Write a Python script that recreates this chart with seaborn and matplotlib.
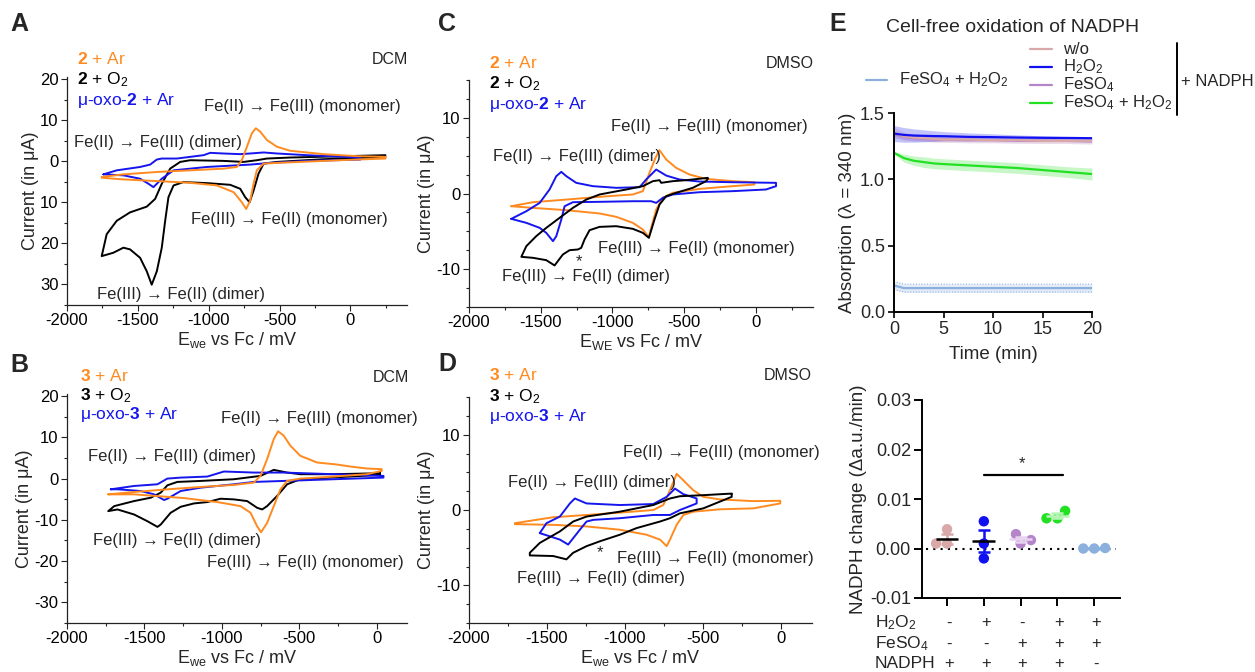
import numpy as np
import pandas as pd
import matplotlib
matplotlib.use("Agg")
import matplotlib.pyplot as plt
import seaborn as sns
from matplotlib.lines import Line2D
from matplotlib.ticker import MultipleLocator

# ---------------- DATA ----------------
# Panel A (compound 2, DCM)
A_or_E = [-1755,-1602,-1366,-1131,-895,-801,-766,-730,-695,-667,-636,-589,-518,-424,-188,47,248,248,47,-188,-518,-612,-660,-683,-707,-735,-766,-824,-942,-1131,-1366,-1602,-1755]
A_or_I = [-3.85,-3.20,-2.62,-2.22,-1.81,-1.40,0.24,3.52,6.79,8.02,7.20,5.16,3.52,2.54,1.72,1.23,1.06,0.65,0.41,0.08,-0.41,-0.58,-2.22,-5.49,-9.59,-11.63,-9.99,-7.54,-5.90,-5.25,-4.84,-4.43,-4.02]
A_bk_E = [248,-188,-518,-612,-648,-683,-711,-742,-777,-848,-1013,-1178,-1248,-1284,-1307,-1331,-1366,-1402,-1437,-1484,-1555,-1602,-1673,-1755,-1720,-1649,-1555,-1437,-1378,-1331,-1272,-1201,-1131,-895,-754,-660,-589,-424,248]
A_bk_I = [1.06,0.49,-0.17,-0.58,-3.03,-7.13,-9.99,-8.77,-6.72,-5.74,-5.33,-5.08,-5.90,-8.77,-14.50,-21.05,-26.79,-30.06,-26.79,-23.51,-21.46,-21.05,-22.28,-23.10,-17.78,-14.50,-12.45,-11.06,-9.18,-5.49,-1.81,-0.17,0.24,0.08,-0.17,0.24,0.65,0.90,1.47]
A_bl_E = [-1743,-1649,-1484,-1413,-1366,-1331,-1225,-1131,-1036,-989,-895,-777,-707,-612,-518,-306,71,71,-306,-565,-707,-1013,-1248,-1331,-1366,-1390,-1425,-1484,-1602,-1743]
A_bl_I = [-3.20,-2.22,-1.40,-0.82,0.41,0.65,0.65,1.06,1.47,2.04,1.88,1.72,1.88,2.13,1.88,1.47,0.90,0.41,0.08,-0.41,-0.82,-1.40,-2.22,-4.26,-5.49,-6.31,-5.49,-4.26,-3.44,-3.20]

# Panel B (compound 3, DCM)
B_or_E = [-1734,-1567,-1352,-1137,-923,-794,-751,-708,-665,-637,-601,-558,-494,-386,-258,-172,-64,32,32,-64,-279,-494,-579,-622,-665,-708,-747,-773,-815,-880,-1030,-1245,-1567,-1734]
B_or_I = [-3.82,-3.25,-2.60,-2.03,-1.54,-0.98,0.65,4.72,9.59,11.46,10.41,7.97,5.53,3.90,3.41,2.93,2.44,2.28,1.87,1.06,0.49,0.0,-0.57,-2.60,-6.67,-10.73,-13.01,-11.54,-8.29,-6.67,-5.69,-4.72,-3.82,-3.82]
B_bk_E = [21,21,-494,-579,-644,-708,-740,-773,-837,-923,-1009,-1094,-1180,-1266,-1331,-1395,-1416,-1481,-1567,-1674,-1734,-1695,-1567,-1459,-1395,-1352,-1288,-1137,-923,-751,-665,-579,-494,-279,21]
B_bk_I = [1.30,0.89,-0.16,-1.38,-4.23,-6.67,-7.48,-7.07,-5.45,-5.04,-4.88,-5.69,-6.02,-6.83,-8.29,-11.14,-11.71,-10.33,-8.70,-7.48,-7.89,-6.67,-5.45,-4.63,-3.41,-1.63,-0.81,-0.57,-0.16,0.65,2.11,1.46,1.06,1.06,1.30]
B_bl_E = [-1717,-1567,-1416,-1352,-1266,-1094,-987,-923,-794,-601,-279,43,43,-279,-601,-794,-923,-1137,-1266,-1352,-1373,-1438,-1524,-1674,-1717]
B_bl_I = [-2.60,-1.79,-1.38,0.0,0.24,0.49,1.71,1.63,1.46,1.46,1.06,0.65,0.24,-0.16,-0.57,-0.81,-1.38,-2.20,-3.01,-4.88,-5.20,-3.82,-3.01,-2.60,-2.60]

# Panel C (compound 2, DMSO)
C_or_E = [-1705,-1554,-1321,-1089,-857,-787,-741,-699,-671,-624,-555,-462,-346,-160,-9,-9,-160,-392,-578,-648,-694,-729,-745,-787,-857,-973,-1089,-1321,-1554,-1705]
C_or_I = [-1.68,-1.15,-0.80,-0.44,-0.13,0.31,2.73,4.71,5.72,4.49,3.39,2.51,1.93,1.63,1.49,1.19,0.97,0.61,0.09,-0.57,-2.12,-4.54,-5.77,-4.76,-3.88,-3.08,-2.64,-2.20,-1.90,-1.68]
C_bl_E = [-1705,-1600,-1507,-1438,-1391,-1356,-1321,-1252,-1136,-973,-810,-764,-717,-694,-624,-532,-392,-160,142,142,72,-160,-392,-578,-648,-694,-729,-857,-1089,-1275,-1333,-1356,-1391,-1414,-1461,-1507,-1600,-1705]
C_bl_I = [-3.35,-2.34,-1.24,0.53,2.29,2.86,2.29,1.41,0.97,0.75,0.83,1.85,2.73,3.17,2.37,1.85,1.58,1.49,1.41,0.97,0.53,0.31,0.17,-0.13,-0.57,-1.24,-1.02,-1.02,-1.10,-1.15,-1.68,-3.44,-5.64,-6.30,-5.20,-4.54,-3.88,-3.35]
C_bk_E = [-334,-346,-439,-555,-624,-671,-706,-745,-787,-857,-973,-1089,-1159,-1194,-1217,-1240,-1298,-1345,-1403,-1461,-1554,-1635,-1600,-1531,-1461,-1368,-1275,-1182,-1089,-903,-787,-717,-671,-659,-578,-485,-334]
C_bk_I = [1.93,1.63,0.75,0.09,-0.35,-1.46,-3.44,-5.86,-5.20,-4.67,-4.32,-4.41,-4.85,-6.08,-7.18,-7.40,-7.49,-8.06,-9.51,-8.81,-8.50,-8.37,-6.96,-5.64,-4.54,-3.22,-1.90,-0.80,-0.13,0.53,0.97,1.63,1.76,1.41,1.63,1.76,2.07]

# Panel D (compound 3, DMSO)
D_or_E = [-1706,-1460,-1246,-1032,-818,-754,-711,-668,-625,-561,-497,-390,-176,-4,-4,-176,-390,-561,-625,-668,-711,-732,-775,-861,-1032,-1246,-1460,-1706]
D_or_I = [-1.75,-0.96,-0.66,-0.35,0.0,0.66,2.62,4.80,3.93,2.62,1.75,1.40,1.18,1.22,0.87,0.22,0.09,-0.22,-0.66,-1.97,-3.93,-4.80,-3.93,-3.28,-2.62,-2.18,-1.97,-1.88]
D_bl_E = [-1546,-1503,-1417,-1353,-1321,-1246,-1032,-818,-732,-679,-625,-540,-540,-647,-711,-818,-1032,-1203,-1246,-1289,-1364,-1417,-1482,-1536,-1546]
D_bl_I = [-3.06,-1.75,-0.87,0.87,1.53,0.87,0.66,0.79,1.75,2.84,2.10,1.53,0.87,0.0,-0.66,-0.66,-1.09,-1.31,-1.53,-2.62,-4.59,-3.93,-3.49,-3.14,-3.06]
D_bk_E = [-315,-315,-497,-647,-711,-775,-925,-1032,-1160,-1246,-1332,-1375,-1460,-1610,-1610,-1546,-1417,-1332,-1246,-1032,-818,-711,-647,-497,-315]
D_bk_I = [2.10,1.75,0.22,-0.44,-1.09,-1.53,-2.40,-3.28,-4.15,-4.80,-5.68,-6.55,-6.11,-6.03,-5.68,-4.37,-2.84,-1.53,-0.87,-0.22,0.66,1.53,1.83,1.97,2.18]

# Panel E top: absorption over time (mean and band half-width)
time_min = [0, 0.5, 1, 2, 3, 4, 5, 7.5, 10, 12.5, 15, 17.5, 20]
abs_wo = [1.35, 1.34, 1.325, 1.315, 1.31, 1.305, 1.30, 1.30, 1.295, 1.295, 1.29, 1.29, 1.29]
abs_wo_sd = [0.04, 0.035, 0.03, 0.025, 0.02, 0.02, 0.02, 0.015, 0.015, 0.015, 0.015, 0.015, 0.015]
abs_h2o2 = [1.345, 1.34, 1.335, 1.33, 1.328, 1.326, 1.325, 1.32, 1.318, 1.315, 1.313, 1.312, 1.31]
abs_h2o2_sd = [0.06, 0.058, 0.055, 0.05, 0.045, 0.04, 0.035, 0.03, 0.025, 0.02, 0.015, 0.01, 0.008]
abs_fe = [1.34, 1.33, 1.32, 1.31, 1.305, 1.30, 1.30, 1.295, 1.295, 1.29, 1.29, 1.29, 1.285]
abs_fe_sd = [0.02]*13
abs_feh = [1.20, 1.18, 1.16, 1.14, 1.13, 1.12, 1.115, 1.105, 1.095, 1.085, 1.07, 1.055, 1.04]
abs_feh_sd = [0.01, 0.02, 0.03, 0.035, 0.04, 0.04, 0.04, 0.04, 0.04, 0.04, 0.04, 0.04, 0.045]
abs_nonadph = [0.20, 0.19, 0.18, 0.18, 0.18, 0.18, 0.18, 0.18, 0.18, 0.18, 0.18, 0.18, 0.18]
abs_nonadph_sd = [0.03]*13

# Panel E bottom: NADPH change per condition
cond_names = ["w/o", "H2O2", "FeSO4", "FeSO4+H2O2", "FeSO4+H2O2 no NADPH"]
vals_wo = [0.0039, 0.0010, 0.0010]
vals_h2o2 = [0.0055, 0.0010, -0.0020]
vals_fe = [0.0029, 0.0010, 0.0017]
vals_feh = [0.0076, 0.0061, 0.0061]
vals_nonadph = [0.0, 0.0001, 0.0]
row_h2o2 = ["-", "+", "-", "+", "+"]
row_fe = ["-", "-", "+", "+", "+"]
row_nadph = ["+", "+", "+", "+", "-"]

# ---------------- STYLE ----------------
sns.set_theme(style="ticks")
plt.rcParams['font.family'] = ['Liberation Sans', 'DejaVu Sans']
plt.rcParams['mathtext.fontset'] = 'custom'
plt.rcParams['mathtext.rm'] = 'Liberation Sans'
plt.rcParams['mathtext.bf'] = 'Liberation Sans:bold'
plt.rcParams['mathtext.it'] = 'Liberation Sans:italic'
plt.rcParams['mathtext.sf'] = 'Liberation Sans'
plt.rcParams['axes.unicode_minus'] = False

ORANGE = "#FF8A1F"
BLUE = "#1515EE"
BLACK = "#000000"
C_WO = "#D9A9A9"
C_H2O2 = "#1010F0"
C_FE = "#B585CA"
C_FEH = "#22E022"
C_NON = "#8CB0DE"

W, H = 1255, 672
fig = plt.figure(figsize=(W/100, H/100), dpi=100)

def axpx(l, t, r, b):
    return fig.add_axes([l/W, 1-b/H, (r-l)/W, (b-t)/H])

def ftext(x, y, s, **kw):
    fig.text(x/W, 1-y/H, s, **kw)

def cv_panel(box, curves, xlim, ylim, yticks, ylabels, yminor, xlabel):
    ax = axpx(*box)
    for E, I, c in curves:
        sns.lineplot(x=E, y=I, sort=False, estimator=None, color=c, lw=1.4, ax=ax)
    ax.set_xlim(*xlim)
    ax.set_ylim(*ylim)
    ax.set_xticks([-2000, -1500, -1000, -500, 0])
    ax.xaxis.set_minor_locator(MultipleLocator(250))
    ax.set_yticks(yticks)
    ax.set_yticklabels(ylabels)
    ax.yaxis.set_minor_locator(MultipleLocator(yminor))
    ax.tick_params(which='major', length=4, width=0.8, labelsize=12, direction='out', pad=2, colors='#222222', labelcolor='black')
    ax.tick_params(which='minor', length=2.5, width=0.8, direction='out', colors='#222222')
    ax.set_xlabel(xlabel, fontsize=13, labelpad=1)
    ax.set_ylabel("Current (in μA)", fontsize=13, labelpad=1)
    for s in ['top', 'right']:
        ax.spines[s].set_visible(False)
    for s in ['left', 'bottom']:
        ax.spines[s].set_linewidth(0.9)
        ax.spines[s].set_color('#222222')
    return ax

xl_we = r"E$_{\rm we}$ vs Fc / mV"
xl_WE = r"E$_{\rm WE}$ vs Fc / mV"

# Panel A
cv_panel((67, 77, 407, 305),
         [(A_bk_E, A_bk_I, BLACK), (A_bl_E, A_bl_I, BLUE), (A_or_E, A_or_I, ORANGE)],
         (-2000, 400), (-35, 20.5), [20, 10, 0, -10, -20, -30],
         ["20", "10", "0", "10", "20", "30"], 5, xl_we)
# Panel B
cv_panel((67, 394, 407, 623),
         [(B_bk_E, B_bk_I, BLACK), (B_bl_E, B_bl_I, BLUE), (B_or_E, B_or_I, ORANGE)],
         (-2000, 195), (-35, 20.5), [20, 10, 0, -10, -20, -30],
         ["20", "10", "0", "-10", "-20", "-30"], 5, xl_we)
# Panel C
cv_panel((469, 80, 813, 307),
         [(C_or_E, C_or_I, ORANGE), (C_bl_E, C_bl_I, BLUE), (C_bk_E, C_bk_I, BLACK)],
         (-2000, 400), (-15, 15), [10, 0, -10], ["10", "0", "-10"], 2.5, xl_WE)
# Panel D
cv_panel((469, 397, 812, 623),
         [(D_or_E, D_or_I, ORANGE), (D_bl_E, D_bl_I, BLUE), (D_bk_E, D_bk_I, BLACK)],
         (-2000, 200), (-15, 15), [10, 0, -10], ["10", "0", "-10"], 2.5, xl_we)

# CV legends / annotations
def cv_legend(x, ys, num, solvent, sx, sy):
    ftext(x, ys[0], r"$\mathbf{%s}$ + Ar" % num, color=ORANGE, fontsize=12.5, va='center')
    ftext(x, ys[1], r"$\mathbf{%s}$ + O$_2$" % num, color=BLACK, fontsize=12.5, va='center')
    ftext(x, ys[2], r"μ-oxo-$\mathbf{%s}$ + Ar" % num, color=BLUE, fontsize=12.5, va='center')
    ftext(sx, sy, solvent, fontsize=11.5, ha='right', va='center')

cv_legend(77, (59, 80, 100), "2", "DCM", 408, 60)
cv_legend(80, (376, 396, 415), "3", "DCM", 409, 378)
cv_legend(489, (63, 84, 104), "2", "DMSO", 814, 64)
cv_legend(489, (375, 397, 417), "3", "DMSO", 812, 375)

ox_m = "Fe(II) → Fe(III) (monomer)"
ox_d = "Fe(II) → Fe(III) (dimer)"
rd_m = "Fe(III) → Fe(II) (monomer)"
rd_d = "Fe(III) → Fe(II) (dimer)"
ann_fs = 12
for (x, y, s) in [(204, 107, ox_m), (74, 143, ox_d), (191, 219, rd_m), (97, 294, rd_d),
                  (221, 419, ox_m), (88, 457, ox_d), (93, 541, rd_d), (207, 562, rd_m),
                  (611, 126, ox_m), (493, 156, ox_d), (598, 249, rd_m), (502, 277, rd_d),
                  (623, 452, ox_m), (508, 483, ox_d), (617, 559, rd_m), (517, 579, rd_d)]:
    ftext(x, y, s, fontsize=ann_fs, ha='left', va='center')
ftext(579, 262, "*", fontsize=12, ha='center', va='center')
ftext(600, 553, "*", fontsize=12, ha='center', va='center')

# Panel letters
for (x, y, s) in [(10, 24, "A"), (10, 365, "B"), (438, 24, "C"), (438, 364, "D"), (829, 24, "E")]:
    ftext(x, y, s, fontsize=18, fontweight='bold', ha='left', va='center')

# ---------------- Panel E top ----------------
axt = axpx(894, 113, 1092, 312)
series = [
    (abs_nonadph, abs_nonadph_sd, C_NON),
    (abs_fe, abs_fe_sd, C_FE),
    (abs_wo, abs_wo_sd, C_WO),
    (abs_h2o2, abs_h2o2_sd, C_H2O2),
    (abs_feh, abs_feh_sd, C_FEH),
]
for m, sd, c in series:
    m = np.array(m); sd = np.array(sd)
    axt.fill_between(time_min, m - sd, m + sd, color=c, alpha=0.25, lw=0)
    if c == C_NON:
        axt.plot(time_min, m - sd, color=c, lw=0.8, ls=(0, (1, 1.5)))
        axt.plot(time_min, m + sd, color=c, lw=0.8, ls=(0, (1, 1.5)))
    sns.lineplot(x=time_min, y=m, color=c, lw=1.6, ax=axt)
axt.set_xlim(0, 20)
axt.set_ylim(0, 1.5)
axt.set_xticks([0, 5, 10, 15, 20])
axt.set_yticks([0.0, 0.5, 1.0, 1.5])
axt.set_yticklabels(["0.0", "0.5", "1.0", "1.5"])
axt.tick_params(length=4.5, width=1.2, labelsize=13, pad=2, color='black')
axt.set_xlabel("Time (min)", fontsize=13.5, labelpad=6)
axt.set_ylabel("Absorption (λ = 340 nm)", fontsize=13.5, labelpad=3)
for s in ['top', 'right']:
    axt.spines[s].set_visible(False)
for s in ['left', 'bottom']:
    axt.spines[s].set_linewidth(1.4)
    axt.spines[s].set_color('black')

ftext(1013, 28, "Cell-free oxidation of NADPH", fontsize=14, ha='center', va='center')
# legend keys
leg_fs = 12
for (y, c, s) in [(49, C_WO, "w/o"), (67, C_H2O2, r"H$_2$O$_2$"), (85, C_FE, r"FeSO$_4$"),
                  (103, C_FEH, r"FeSO$_4$ + H$_2$O$_2$")]:
    fig.add_artist(Line2D([1030/W, 1052/W], [1-y/H, 1-y/H], color=c, lw=1.6))
    ftext(1063, y, s, fontsize=leg_fs, ha='left', va='center')
fig.add_artist(Line2D([866/W, 887/W], [1-80/H, 1-80/H], color=C_NON, lw=1.6))
ftext(899, 80, r"FeSO$_4$ + H$_2$O$_2$", fontsize=leg_fs, ha='left', va='center')
fig.add_artist(Line2D([1177/W, 1177/W], [1-43/H, 1-115/H], color='black', lw=1.4))
ftext(1181, 81, "+ NADPH", fontsize=leg_fs, ha='left', va='center')

# ---------------- Panel E bottom ----------------
axb = axpx(922, 400, 1120, 598)
all_vals = [vals_wo, vals_h2o2, vals_fe, vals_feh, vals_nonadph]
colors_b = [C_WO, C_H2O2, C_FE, C_FEH, C_NON]
df = pd.DataFrame({
    "cond": [cond_names[i] for i, v in enumerate(all_vals) for _ in v],
    "val": [x for v in all_vals for x in v],
})
axb.axhline(0, color='black', lw=1.5, ls=(0, (1, 2.5)), xmin=0.02, xmax=0.98, zorder=1)
sns.swarmplot(data=df, x="cond", y="val", hue="cond", order=cond_names, hue_order=cond_names,
              palette=colors_b, size=7.5, legend=False, ax=axb, zorder=2)
mean_cols = ["black", "black", "#E8D4F0", "#B8F5B8", C_NON]
for i, v in enumerate(all_vals):
    m = np.mean(v)
    se = np.std(v, ddof=1) / np.sqrt(len(v))
    axb.errorbar(i, m, yerr=se, fmt='none', ecolor=colors_b[i] if i < 2 else mean_cols[i],
                 elinewidth=1.8, capsize=4, capthick=1.8, zorder=3)
    axb.hlines(m, i - 0.31, i + 0.31, color=mean_cols[i], lw=1.8, zorder=4)
axb.plot([1, 3.15], [0.0148, 0.0148], color='black', lw=1.6)
axb.text(2.05, 0.0172, "*", ha='center', va='center', fontsize=12)
axb.set_xlim(-0.68, 4.7)
axb.set_ylim(-0.01, 0.03)
axb.set_yticks([-0.01, 0.0, 0.01, 0.02, 0.03])
axb.set_yticklabels(["-0.01", "0.00", "0.01", "0.02", "0.03"])
axb.set_xticks(range(5))
axb.set_xticklabels([""] * 5)
axb.set_xlabel("")
axb.set_ylabel("NADPH change (Δa.u./min)", fontsize=13.5, labelpad=2)
axb.tick_params(length=6, width=1.4, labelsize=13, pad=2, color='black')
for s in ['top', 'right']:
    axb.spines[s].set_visible(False)
for s in ['left', 'bottom']:
    axb.spines[s].set_linewidth(1.4)
    axb.spines[s].set_color('black')

tr = axb.get_xaxis_transform()
for yfrac, label, row in [(-0.126, r"H$_2$O$_2$", row_h2o2), (-0.232, r"FeSO$_4$", row_fe),
                          (-0.333, "NADPH", row_nadph)]:
    axb.text(-0.237, yfrac, label, transform=axb.transAxes, fontsize=12.5, ha='left', va='center')
    for i, s in enumerate(row):
        axb.text(i + 0.05, yfrac, s, transform=tr, fontsize=12, ha='center', va='center')

fig.savefig("out.png", dpi=100)
